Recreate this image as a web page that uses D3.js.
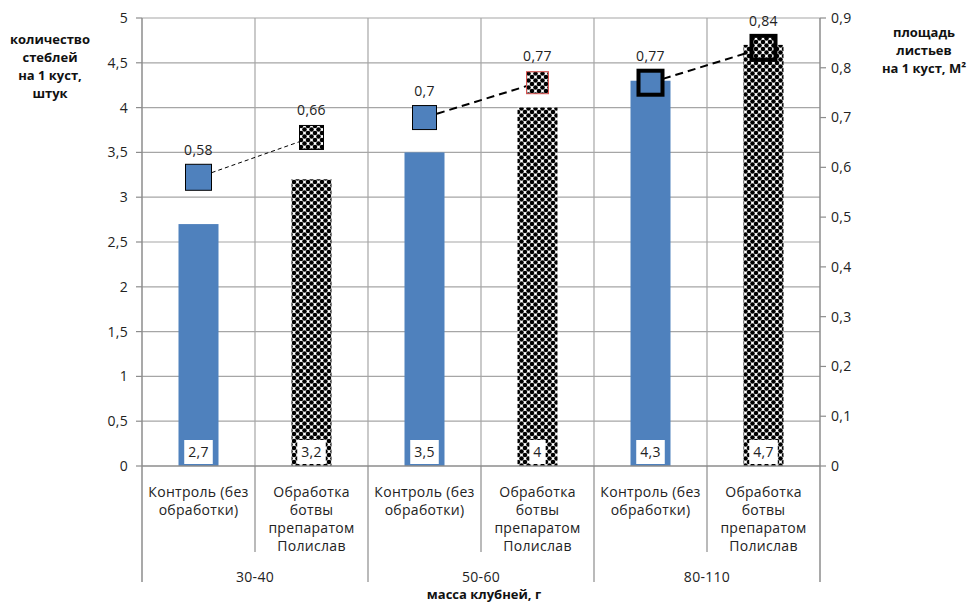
<!DOCTYPE html>
<html>
<head>
<meta charset="utf-8">
<script src="https://cdn.jsdelivr.net/npm/d3@7"></script>
<style>
  html, body { margin: 0; padding: 0; background: #fff; }
  svg { display: block; font-family: "Open Sans", "Noto Sans", sans-serif; }
</style>
</head>
<body>
<svg id="chart" width="976" height="603"></svg>
<script>
// Tuber mass groups and treatments
const groups = ["30-40", "50-60", "80-110"];
const treatmentLines = [
  ["Контроль (без", "обработки)"],
  ["Обработка", "ботвы", "препаратом", "Полислав"]
];
// Stems per bush (bars) and leaf area per bush, m² (markers)
const stems = [2.7, 3.2, 3.5, 4, 4.3, 4.7];
const leafArea = [0.58, 0.66, 0.7, 0.77, 0.77, 0.84];
const leftTicks = [0, 0.5, 1, 1.5, 2, 2.5, 3, 3.5, 4, 4.5, 5];
const rightTicks = [0, 0.1, 0.2, 0.3, 0.4, 0.5, 0.6, 0.7, 0.8, 0.9];
const leftTitle = ["количество", "стеблей", "на 1 куст,", "штук"];
const rightTitle = ["площадь", "листьев", "на 1 куст, М²"];
const xTitle = "масса клубней, г";

const svg = d3.select("#chart");
const L = 142, R = 820, T = 18, B = 466;
const gridColor = "#a6a6a6";
const fs = 14, ls = "0.3px";
const fmt = v => String(v).replace(".", ",");

const cells = [];
groups.forEach((g, gi) => treatmentLines.forEach((t, ti) => cells.push({ g, gi, ti, lines: t })));
cells.forEach((c, i) => { c.i = i; c.stems = stems[i]; c.area = leafArea[i]; });

const x = d3.scaleBand().domain(d3.range(cells.length)).range([L, R]).paddingInner(0).paddingOuter(0);
const yL = d3.scaleLinear().domain([0, 5]).range([B, T]);
const yR = d3.scaleLinear().domain([0, 0.9]).range([B, T]);

// Dotted fill for treated bars
const defs = svg.append("defs");
const tile = 7;
const pat = defs.append("pattern").attr("id", "dots").attr("patternUnits", "userSpaceOnUse")
  .attr("width", tile).attr("height", tile);
pat.append("rect").attr("width", tile).attr("height", tile).attr("fill", "#fff");
[[0, 0], [tile, 0], [0, tile], [tile, tile], [tile / 2, tile / 2]].forEach(([cx, cy]) =>
  pat.append("circle").attr("cx", cx).attr("cy", cy).attr("r", 2.3).attr("fill", "#000"));

// Horizontal gridlines
svg.append("g").selectAll("line").data(leftTicks.slice(1)).join("line")
  .attr("x1", L).attr("x2", R).attr("y1", d => yL(d)).attr("y2", d => yL(d))
  .attr("stroke", gridColor).attr("stroke-width", 1.2);

// Vertical gridlines at category boundaries
svg.append("g").selectAll("line").data(d3.range(1, cells.length)).join("line")
  .attr("x1", d => x(d)).attr("x2", d => x(d)).attr("y1", T).attr("y2", B)
  .attr("stroke", gridColor).attr("stroke-width", 1.2);

// Bars
const bw = 40;
svg.append("g").selectAll("rect").data(cells).join("rect")
  .attr("x", d => x(d.i) + x.bandwidth() / 2 - bw / 2)
  .attr("width", bw)
  .attr("y", d => yL(d.stems))
  .attr("height", d => yL(0) - yL(d.stems))
  .attr("fill", d => d.ti === 0 ? "#4f81bd" : "url(#dots)");

// Left axis
const axisColor = "#8c8c8c";
svg.append("line").attr("x1", L).attr("x2", L).attr("y1", T).attr("y2", 582)
  .attr("stroke", axisColor).attr("stroke-width", 1.5);
const lt = svg.append("g");
lt.selectAll("line").data(leftTicks).join("line")
  .attr("x1", L - 6).attr("x2", L).attr("y1", d => yL(d)).attr("y2", d => yL(d))
  .attr("stroke", axisColor).attr("stroke-width", 1.2);
lt.selectAll("text").data(leftTicks).join("text")
  .attr("x", 128).attr("y", d => yL(d)).attr("dy", "0.35em")
  .attr("text-anchor", "end").attr("font-size", fs).attr("letter-spacing", ls).attr("fill", "#222")
  .text(d => fmt(d));

// Right axis
svg.append("line").attr("x1", R).attr("x2", R).attr("y1", T).attr("y2", 582)
  .attr("stroke", axisColor).attr("stroke-width", 1.5);
const rt = svg.append("g");
rt.selectAll("line").data(rightTicks).join("line")
  .attr("x1", R).attr("x2", R + 6).attr("y1", d => yR(d)).attr("y2", d => yR(d))
  .attr("stroke", axisColor).attr("stroke-width", 1.2);
rt.selectAll("text").data(rightTicks).join("text")
  .attr("x", 831).attr("y", d => yR(d)).attr("dy", "0.35em")
  .attr("text-anchor", "start").attr("font-size", fs).attr("letter-spacing", ls).attr("fill", "#222")
  .text(d => fmt(d));

// Bottom axis: line, sub-category dividers, group dividers
svg.append("line").attr("x1", L).attr("x2", R).attr("y1", B).attr("y2", B)
  .attr("stroke", axisColor).attr("stroke-width", 1.5);
svg.append("g").selectAll("line").data(d3.range(1, cells.length)).join("line")
  .attr("x1", d => x(d)).attr("x2", d => x(d))
  .attr("y1", B).attr("y2", d => d % 2 === 0 ? 582 : 552)
  .attr("stroke", axisColor).attr("stroke-width", 1.2);

// Treatment labels
const tl = svg.append("g").selectAll("text").data(cells).join("text")
  .attr("text-anchor", "middle").attr("font-size", fs).attr("letter-spacing", ls).attr("fill", "#222");
tl.each(function (d) {
  const t = d3.select(this);
  d.lines.forEach((ln, k) => t.append("tspan")
    .attr("x", x(d.i) + x.bandwidth() / 2).attr("y", 497 + k * 18).text(ln));
});

// Group labels
svg.append("g").selectAll("text").data(groups).join("text")
  .attr("x", (d, i) => x(i * 2) + x.bandwidth())
  .attr("y", 582).attr("text-anchor", "middle").attr("font-size", fs).attr("letter-spacing", ls)
  .attr("fill", "#222").text(d => d);

// Axis titles
svg.append("text").attr("x", 484).attr("y", 599).attr("text-anchor", "middle")
  .attr("font-size", 13).attr("font-weight", "bold").attr("fill", "#111").text(xTitle);
const ltt = svg.append("text").attr("text-anchor", "middle").attr("font-size", 13)
  .attr("font-weight", "bold").attr("fill", "#111");
leftTitle.forEach((ln, k) => ltt.append("tspan").attr("x", 50).attr("y", 44 + k * 18).text(ln));
const rtt = svg.append("text").attr("text-anchor", "middle").attr("font-size", 13)
  .attr("font-weight", "bold").attr("fill", "#111");
rightTitle.forEach((ln, k) => rtt.append("tspan").attr("x", 924).attr("y", 37 + k * 18).text(ln));

// Bar value labels in white boxes
const bl = svg.append("g").selectAll("g").data(cells).join("g");
bl.each(function (d) {
  const g = d3.select(this);
  const cx = x(d.i) + x.bandwidth() / 2;
  const rect = g.append("rect").attr("fill", "#fff");
  const txt = g.append("text").attr("x", cx).attr("y", 452).attr("dy", "0.35em")
    .attr("text-anchor", "middle").attr("font-size", fs).attr("letter-spacing", ls)
    .attr("fill", "#222").text(fmt(d.stems));
  const w = txt.node().getComputedTextLength() + 8;
  rect.attr("x", cx - w / 2).attr("y", 440).attr("width", w).attr("height", 24);
});

// Leaf area: one dashed segment per mass group
const lineStyles = [
  { w: 1, dash: "4,3" },
  { w: 2, dash: "8,5" },
  { w: 2, dash: "8,5" }
];
const line = d3.line().x(d => x(d.i) + x.bandwidth() / 2).y(d => yR(d.area));
groups.forEach((g, gi) => {
  const pts = cells.filter(c => c.gi === gi);
  svg.append("path").datum(pts).attr("d", line).attr("fill", "none")
    .attr("stroke", "#000").attr("stroke-width", lineStyles[gi].w)
    .attr("stroke-dasharray", lineStyles[gi].dash);
});

// Markers
const markerStyle = [
  { s: 26, stroke: "#000", sw: 1 }, { s: 24, stroke: "#000", sw: 1 },
  { s: 24, stroke: "#000", sw: 1 }, { s: 22, stroke: "#d9534f", sw: 1 },
  { s: 24, stroke: "#000", sw: 4 }, { s: 24, stroke: "#000", sw: 4 }
];
svg.append("g").selectAll("rect").data(cells).join("rect")
  .attr("x", d => x(d.i) + x.bandwidth() / 2 - markerStyle[d.i].s / 2)
  .attr("y", d => yR(d.area) - markerStyle[d.i].s / 2)
  .attr("width", d => markerStyle[d.i].s).attr("height", d => markerStyle[d.i].s)
  .attr("fill", d => d.ti === 0 ? "#4f81bd" : "url(#dots)")
  .attr("stroke", d => markerStyle[d.i].stroke)
  .attr("stroke-width", d => markerStyle[d.i].sw);

// Marker value labels
svg.append("g").selectAll("text").data(cells).join("text")
  .attr("x", d => x(d.i) + x.bandwidth() / 2)
  .attr("y", d => yR(d.area) - 22)
  .attr("text-anchor", "middle").attr("font-size", fs).attr("letter-spacing", ls).attr("fill", "#222")
  .text(d => fmt(d.area));
</script>
</body>
</html>
